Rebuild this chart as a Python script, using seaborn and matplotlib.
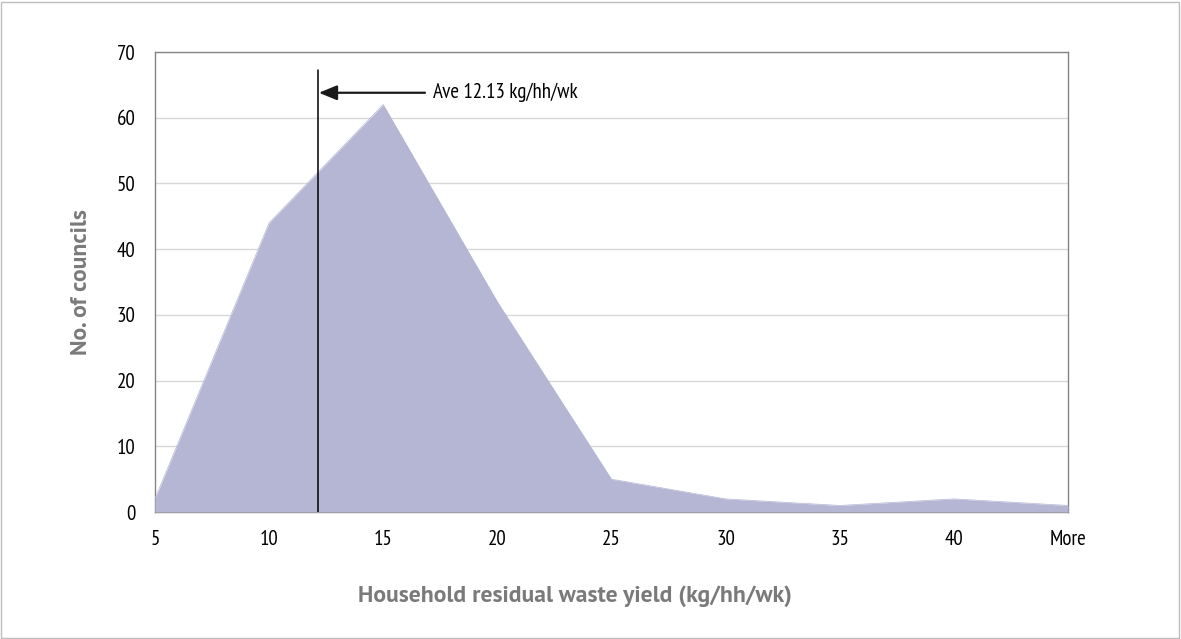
#!/usr/bin/env python3.12
# coding=utf-8

from matplotlib import pyplot as plt
from matplotlib.patches import Rectangle
import pandas as pd
import seaborn as sns
import numpy as np

# data
categories = ['5', '10', '15', '20', '25', '30', '35', '40', 'More']
councils = [2, 44, 62, 32, 5, 2, 1, 2, 1]
average = 12.13
y_ticks = [0, 10, 20, 30, 40, 50, 60, 70]

df = pd.DataFrame({'pos': np.arange(len(categories)), 'councils': councils})

sns.set_style('white')
narrow = ['PT Sans Narrow', 'Roboto Condensed', 'Fira Sans Condensed', 'DejaVu Sans']
label_font = ['PT Sans', 'Fira Sans', 'Lato', 'DejaVu Sans']
plt.rcParams['font.family'] = narrow

fill_color = '#b5b6d4'
spine_color = '#858585'
label_color = '#7a7a7a'

fig = plt.figure(figsize=(11.81, 6.39), dpi=100)
ax = fig.add_axes([0.1312, 0.1987, 0.7731, 0.7199])

# area chart: seaborn line + filled area under it
sns.lineplot(data=df, x='pos', y='councils', ax=ax, color=fill_color, linewidth=0.5, zorder=3)
ax.fill_between(df['pos'], df['councils'], 0, color=fill_color, linewidth=0, zorder=3)

# average marker: "5" is at position 0 and bins are 5 wide
avg_pos = (average - 5) / 5
ax.plot([avg_pos, avg_pos], [0, 67.3], color='black', linewidth=1.1, zorder=4)
ax.annotate('', xy=(avg_pos + 0.01, 63.8), xytext=(avg_pos + 0.94, 63.8),
            arrowprops=dict(arrowstyle='-|>,head_length=1.1,head_width=0.45',
                            color='#1a1a1a', linewidth=1.6, shrinkA=0, shrinkB=0),
            zorder=5)
ax.text(avg_pos + 1.01, 63.8, f'Ave {average:.2f} kg/hh/wk', fontsize=15,
        va='center', ha='left', color='black', zorder=5)

# axes and ticks
ax.set_xlim(0, len(categories) - 1)
ax.set_ylim(0, 70)
ax.set_xticks(df['pos'])
ax.set_xticklabels(categories)
ax.set_xticks(df['pos'][:-1] + 0.5, minor=True)
ax.set_yticks(y_ticks)
ax.tick_params(axis='both', which='both', direction='out', length=8, width=1,
               color=spine_color, labelsize=15, labelcolor='black')
ax.tick_params(axis='x', which='major', pad=5)
ax.tick_params(axis='y', which='major', pad=6)
ax.grid(axis='y', color='#d8d8d8', linewidth=1, zorder=0)
ax.set_axisbelow(True)

for side in ['left', 'bottom', 'right', 'top']:
    ax.spines[side].set_visible(True)
    ax.spines[side].set_color(spine_color)
    ax.spines[side].set_linewidth(1)

# x label sits a little left of the axes centre in the reference
ax.set_xlabel('Household residual waste yield (kg/hh/wk)', family=label_font, x=0.46,
              fontweight='bold', fontsize=17, color=label_color, labelpad=26)
ax.set_ylabel('No. of councils', family=label_font,
              fontweight='bold', fontsize=17, color=label_color, labelpad=18)

# grey frame around the whole figure
fig.patches.append(Rectangle((0.001, 0.002), 0.997, 0.995, transform=fig.transFigure,
                             fill=False, edgecolor='#bdbdbd', linewidth=1))

fig.savefig('out.png', dpi=100)
